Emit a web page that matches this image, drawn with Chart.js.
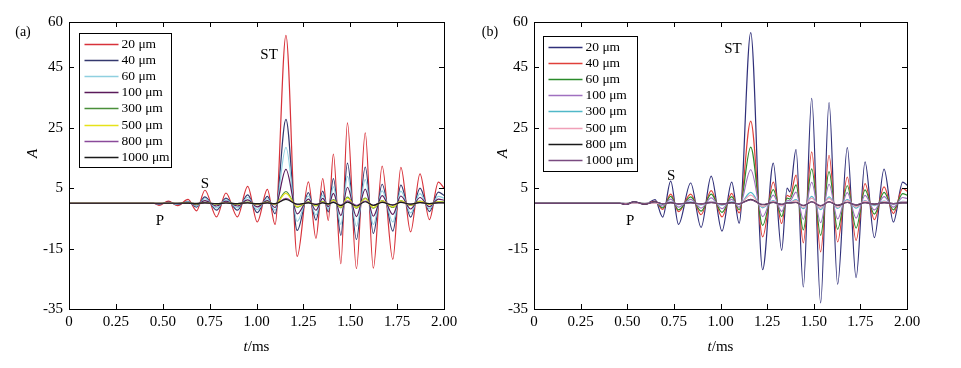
<!DOCTYPE html>
<html>
<head>
<meta charset="utf-8">
<script src="https://cdn.jsdelivr.net/npm/chart.js@4.4.0/dist/chart.umd.min.js"></script>
<style>
  body { margin: 0; background: #fff; width: 961px; height: 368px; overflow: hidden; position: relative; }
  canvas { position: absolute; top: 0; }
</style>
</head>
<body>
<canvas id="ca" width="480" height="368" style="left:0"></canvas>
<canvas id="cb" width="481" height="368" style="left:480px"></canvas>
<script>
// labels and ticks
const seriesLabels = ['20 μm', '40 μm', '60 μm', '100 μm', '300 μm', '500 μm', '800 μm', '1000 μm'];
const xTicks = [0, 0.25, 0.5, 0.75, 1, 1.25, 1.5, 1.75, 2];
const yTicks = [-35, -15, 5, 25, 45, 60];

// panel (a): times of the peaks / troughs (ms) and amplitudes
const tA = [0, 0.45, 0.48, 0.53, 0.58, 0.635, 0.68, 0.725, 0.787, 0.837, 0.898, 0.953, 1.004, 1.058, 1.099, 1.157, 1.217, 1.277, 1.317, 1.353, 1.383, 1.41, 1.45, 1.485, 1.533, 1.58, 1.623, 1.67, 1.727, 1.77, 1.822, 1.872, 1.922, 1.97, 2.0];
const a20 = [0, 0, -0.7, 0.7, -0.8, 1.3, -2.5, 4.3, -4.5, 3.4, -4.5, 5.6, -6.2, 4.6, -7, 55.6, -17.6, 7.1, -11.6, 8.2, -5.7, 16.3, -20, 26.6, -21.6, 23.3, -21.5, 12.3, -18.6, 11.9, -9.5, 9.7, -5.4, 7, 5];
const a40 = [0, 0, -0.35, 0.35, -0.4, 0.6, -1.3, 2.1, -2.3, 1.7, -2.3, 2.8, -3.1, 2.3, -3.5, 27.8, -9, 3.5, -5.6, 4, -2.9, 8.2, -10.6, 13.3, -12, 12, -10, 6.3, -9.2, 6, -4.6, 5, -2.8, 3.7, 2.6];
const a60 = [0, 0, -0.25, 0.25, -0.3, 0.45, -0.9, 1.5, -1.5, 1.1, -1.5, 1.9, -2.1, 1.5, -2.3, 18.5, -6, 2.4, -3.9, 2.7, -1.9, 5.4, -7, 8.9, -7.6, 7.8, -7, 4.1, -6.2, 4, -3.2, 3.2, -1.8, 2.3, 1.7];
const a100 = [0, 0, -0.15, 0.15, -0.15, 0.25, -0.5, 0.9, -0.9, 0.7, -0.9, 1.1, -1.2, 0.9, -1.4, 11.2, -3.5, 1.4, -2.3, 1.6, -1.1, 3.3, -4.1, 5.3, -4.4, 4.7, -4.3, 2.5, -3.7, 2.4, -1.9, 1.9, -1.1, 1.4, 1];
const a300 = [0, 0, -0.05, 0.05, -0.05, 0.1, -0.2, 0.3, -0.3, 0.25, -0.3, 0.4, -0.5, 0.35, -0.5, 3.9, -1.3, 0.5, -0.9, 0.6, -0.4, 1.2, -1.5, 2, -1.6, 1.7, -1.6, 0.9, -1.4, 0.9, -0.7, 0.7, -0.4, 0.5, 0.4];
const a500 = [0, 0, -0.04, 0.04, -0.04, 0.08, -0.15, 0.25, -0.25, 0.2, -0.25, 0.3, -0.4, 0.3, -0.4, 3.3, -1.1, 0.4, -0.7, 0.5, -0.35, 1, -1.3, 1.7, -1.4, 1.5, -1.4, 0.8, -1.2, 0.8, -0.6, 0.6, -0.35, 0.45, 0.3];
const a800 = [0, 0, -0.02, 0.02, -0.02, 0.04, -0.08, 0.13, -0.13, 0.1, -0.13, 0.17, -0.19, 0.14, -0.2, 1.6, -0.5, 0.2, -0.35, 0.25, -0.17, 0.5, -0.6, 0.8, -0.65, 0.7, -0.65, 0.4, -0.55, 0.35, -0.3, 0.3, -0.15, 0.2, 0.15];
const a1000 = [0, 0, 0, 0, 0, 0.03, -0.06, 0.1, -0.1, 0.08, -0.1, 0.13, -0.15, 0.1, -0.15, 1.3, -0.3, 0.1, -0.4, 0.1, -0.2, 0.3, -0.8, 0.4, -0.9, 0.5, -0.7, 0.3, -0.6, 0.3, -0.3, 0.2, -0.1, 0.15, 0.1];

// panel (b)
const tB = [0, 0.46, 0.494, 0.536, 0.595, 0.649, 0.69, 0.733, 0.775, 0.84, 0.896, 0.95, 1.008, 1.06, 1.10, 1.162, 1.226, 1.283, 1.328, 1.357, 1.372, 1.405, 1.444, 1.489, 1.537, 1.582, 1.628, 1.68, 1.727, 1.775, 1.825, 1.877, 1.927, 1.977, 2.0];
const b20 = [0, 0, -0.4, 0.5, -0.4, 1.2, -4.6, 7.3, -7, 6.7, -8, 9, -9.2, 7, -6.6, 56.5, -22, 13.3, -15.6, 5, 3.8, 17.8, -27.7, 34.7, -33, 33.3, -26.8, 18.4, -24.6, 13.7, -11.4, 11.3, -6.2, 7, 6];
const b40 = [0, 0, -0.2, 0.25, -0.2, 0.6, -2, 3, -2.8, 3, -3.8, 4.2, -4.5, 3.3, -3.2, 27.2, -11.1, 7, -6.7, 2.6, 2.2, 9.3, -13.1, 17, -16.1, 15.9, -12.8, 8.7, -12.3, 6.5, -5.4, 5.4, -3.4, 4.9, 4];
const b60 = [0, 0, -0.13, 0.17, -0.13, 0.4, -1.5, 2.3, -2.2, 2.1, -2.6, 3, -3, 2.2, -2.1, 18.6, -7.3, 4.5, -4.4, 1.7, 1.4, 6.1, -8.8, 11.4, -10.6, 10.5, -8.6, 5.8, -8.2, 4.4, -3.6, 3.6, -2.2, 3.2, 2.7];
const b100 = [0, 0, -0.08, 0.1, -0.08, 0.25, -0.9, 1.4, -1.3, 1.3, -1.6, 1.8, -1.8, 1.3, -1.3, 11.1, -4.4, 2.7, -2.7, 1, 0.8, 3.7, -5.3, 6.9, -6.4, 6.3, -5.2, 3.5, -4.9, 2.6, -2.2, 2.2, -1.3, 1.9, 1.6];
const b300 = [0, 0, -0.03, 0.03, -0.03, 0.08, -0.3, 0.45, -0.45, 0.45, -0.55, 0.6, -0.6, 0.45, -0.45, 3.6, -1.5, 0.9, -0.9, 0.35, 0.3, 1.2, -1.8, 2.3, -2.1, 2.1, -1.7, 1.2, -1.6, 0.9, -0.75, 0.75, -0.45, 0.65, 0.55];
const b500 = [0, 0, -0.02, 0.02, -0.02, 0.06, -0.22, 0.35, -0.35, 0.33, -0.4, 0.45, -0.45, 0.33, -0.33, 2.7, -1.1, 0.65, -0.75, 0.25, 0.2, 0.9, -1.4, 1.7, -1.6, 1.6, -1.3, 0.9, -1.2, 0.7, -0.55, 0.55, -0.3, 0.5, 0.4];
const b800 = [0, 0, -0.4, 0.5, -0.3, 0.5, -0.2, 0.2, -0.2, 0.2, -0.2, 0.25, -0.25, 0.2, -0.2, 1.3, -0.5, 0.3, -0.4, 0.1, 0.1, 0.3, -0.8, 0.5, -0.9, 0.5, -0.7, 0.3, -0.6, 0.2, -0.3, 0.2, -0.1, 0.15, 0.1];
const b1000 = [0, 0, -0.4, 0.5, -0.3, 0.5, -0.15, 0.15, -0.15, 0.15, -0.15, 0.2, -0.2, 0.15, -0.15, 1.1, -0.4, 0.25, -0.35, 0.1, 0.1, 0.25, -0.7, 0.45, -0.8, 0.45, -0.6, 0.25, -0.5, 0.2, -0.25, 0.15, -0.1, 0.1, 0.1];

const colorsA = ['#d8323a', '#34386e', '#8fd0e0', '#5a1a5a', '#4a8f3a', '#e6e21a', '#8a4a9a', '#1a1a1a'];
const colorsB = ['#30307a', '#e0403a', '#2a8a2a', '#a070c0', '#50b8c8', '#f0a0b8', '#1a1a1a', '#7a4a80'];

const serif = 'Liberation Serif';

// box, inward ticks, legend, notes, axis titles
const frame = {
  id: 'frame',
  afterDraw(chart, args, o) {
    const ctx = chart.ctx, a = chart.chartArea, x = chart.scales.x, y = chart.scales.y;
    ctx.save();
    ctx.strokeStyle = '#000';
    ctx.lineWidth = 1;
    ctx.strokeRect(Math.round(a.left) + 0.5, Math.round(a.top) + 0.5, Math.round(a.right - a.left), Math.round(a.bottom - a.top));
    ctx.beginPath();
    x.ticks.forEach(t => {
      const px = Math.round(x.getPixelForValue(t.value)) + 0.5;
      ctx.moveTo(px, a.bottom); ctx.lineTo(px, a.bottom - 5);
      ctx.moveTo(px, a.top); ctx.lineTo(px, a.top + 5);
    });
    y.ticks.forEach(t => {
      const py = Math.round(y.getPixelForValue(t.value)) + 0.5;
      ctx.moveTo(a.left, py); ctx.lineTo(a.left + 5, py);
      ctx.moveTo(a.right, py); ctx.lineTo(a.right - 5, py);
    });
    ctx.stroke();

    // legend
    const lx = Math.round(a.left + o.legend.dx) + 0.5, ly = Math.round(a.top + o.legend.dy) + 0.5;
    ctx.fillStyle = '#fff';
    ctx.fillRect(lx, ly, o.legend.w, o.legend.h);
    ctx.strokeRect(lx, ly, o.legend.w, o.legend.h);
    ctx.font = '13.5px "' + serif + '"';
    ctx.textBaseline = 'middle';
    ctx.textAlign = 'left';
    chart.data.datasets.forEach((ds, i) => {
      const yy = Math.round(ly + 10 + i * 16.2) + 0.5;
      ctx.strokeStyle = ds.borderColor;
      ctx.lineWidth = 1.3;
      ctx.beginPath();
      ctx.moveTo(lx + 5, yy); ctx.lineTo(lx + 39, yy);
      ctx.stroke();
      ctx.fillStyle = '#000';
      ctx.fillText(ds.label, lx + 42, yy);
    });

    // wave labels
    ctx.font = '15px "' + serif + '"';
    ctx.textAlign = 'center';
    ctx.fillStyle = '#000';
    o.notes.forEach(n => ctx.fillText(n.text, x.getPixelForValue(n.t), y.getPixelForValue(n.a)));
    ctx.font = '14px "' + serif + '"';
    ctx.fillText(o.panel, o.panelX, 32);

    // axis titles
    ctx.font = 'italic 15px "' + serif + '"';
    ctx.save();
    ctx.translate(o.yTitleX, (a.top + a.bottom) / 2 - 12);
    ctx.rotate(-Math.PI / 2);
    ctx.fillText('A', 0, 0);
    ctx.restore();
    const cx = (a.left + a.right) / 2;
    ctx.font = 'italic 15px "' + serif + '"';
    const w1 = ctx.measureText('t').width;
    ctx.font = '15px "' + serif + '"';
    const w2 = ctx.measureText('/ms').width;
    ctx.textAlign = 'left';
    ctx.font = 'italic 15px "' + serif + '"';
    ctx.fillText('t', cx - (w1 + w2) / 2, 347);
    ctx.font = '15px "' + serif + '"';
    ctx.fillText('/ms', cx - (w1 + w2) / 2 + w1, 347);
    ctx.restore();
  }
};

function makePanel(id, times, series, colors, cfg) {
  const datasets = series.map((vals, i) => ({
    label: seriesLabels[i],
    data: times.map((t, k) => ({ x: t, y: vals[k] })),
    borderColor: colors[i],
    borderWidth: 1.2,
    pointRadius: 0,
    fill: false,
    cubicInterpolationMode: 'monotone',
    order: series.length - i
  }));
  const tickFont = { family: serif, size: 15 };
  new Chart(document.getElementById(id), {
    type: 'line',
    data: { datasets: datasets },
    options: {
      responsive: false,
      animation: false,
      layout: { padding: { left: 0, right: cfg.right, top: 22, bottom: 0 } },
      plugins: { legend: { display: false }, tooltip: { enabled: false }, frame: cfg },
      scales: {
        x: {
          type: 'linear', min: 0, max: 2,
          afterBuildTicks: s => { s.ticks = xTicks.map(v => ({ value: v })); },
          afterFit: s => { s.height = 59; },
          grid: { display: false, drawTicks: false },
          border: { display: false },
          ticks: { padding: 4, maxRotation: 0, autoSkip: false, color: '#000', font: tickFont,
            callback: v => v === 0 ? '0' : v.toFixed(2) }
        },
        y: {
          min: -35, max: 60,
          afterBuildTicks: s => { s.ticks = yTicks.map(v => ({ value: v })); },
          afterFit: s => { s.width = cfg.left; },
          grid: { display: false, drawTicks: false },
          border: { display: false },
          ticks: { padding: 6, autoSkip: false, color: '#000', font: tickFont }
        }
      }
    },
    plugins: [frame]
  });
}

makePanel('ca', tA, [a20, a40, a60, a100, a300, a500, a800, a1000], colorsA, {
  left: 69, right: 36, panel: '(a)', panelX: 23, yTitleX: 33,
  legend: { dx: 10, dy: 11, w: 92, h: 134 },
  notes: [{ text: 'ST', t: 1.067, a: 49 }, { text: 'S', t: 0.725, a: 6.5 }, { text: 'P', t: 0.485, a: -6 }]
});
makePanel('cb', tB, [b20, b40, b60, b100, b300, b500, b800, b1000], colorsB, {
  left: 54, right: 54, panel: '(b)', panelX: 10, yTitleX: 23,
  legend: { dx: 9, dy: 14, w: 94, h: 135 },
  notes: [{ text: 'ST', t: 1.067, a: 51 }, { text: 'S', t: 0.735, a: 9 }, { text: 'P', t: 0.515, a: -6 }]
});
</script>
</body>
</html>
